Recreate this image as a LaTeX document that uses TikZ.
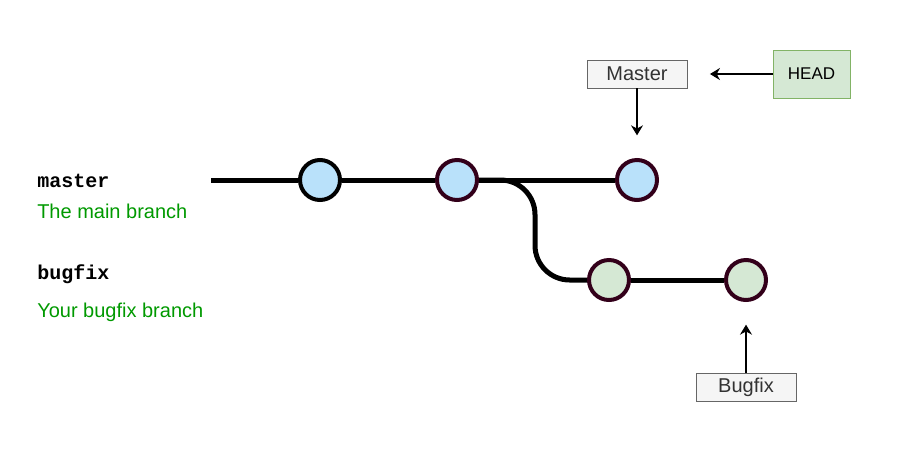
\documentclass[tikz,border=0pt]{standalone}
\usepackage{fontspec}
\setmainfont{Liberation Sans}
\setmonofont{Liberation Mono}
\usetikzlibrary{arrows.meta, positioning, backgrounds}
\definecolor{cBlue}{HTML}{B9E1FA}
\definecolor{cMaroon}{HTML}{33001A}
\definecolor{cGreen}{HTML}{D5E8D4}
\definecolor{cGreenLine}{HTML}{82B366}
\definecolor{cGray}{HTML}{F5F5F5}
\definecolor{cGrayLine}{HTML}{666666}
\definecolor{cText}{HTML}{333333}
\definecolor{cTextGreen}{HTML}{009900}
\tikzset{
	commit/.style   ={circle, minimum size=30pt, inner sep=0pt, line width=3pt, draw=cMaroon},
	branch/.style   ={line width=3.75pt},
	tag/.style      ={rectangle, draw=cGrayLine, fill=cGray, text=cText, minimum width=75pt, minimum height=21pt, inner sep=0pt, font=\fontsize{15}{18}\selectfont},
	ptr/.style      ={-{Stealth[length=7.5pt, width=9pt]}, line width=0.9pt, shorten >=17pt},
	% branch names and their notes
	bname/.style    ={anchor=west, inner sep=0pt, font=\ttfamily\bfseries\fontsize{15}{18}\selectfont},
	bnote/.style    ={anchor=west, inner sep=0pt, text=cTextGreen, font=\fontsize{15}{18}\selectfont},
}
\begin{document}
\begin{tikzpicture}[x=0.75pt, y=-0.75pt]
	\useasboundingbox (0,0) rectangle (899,451);
	% commits
	\node[commit, draw=black, fill=cBlue] (c1) at (320,180) {};
	\node[commit, fill=cBlue] (c2) at (457,180) {};
	\node[commit, fill=cBlue] (c3) at (637,180) {};
	\node[commit, fill=cGreen] (c4) at (609,280) {};
	\node[commit, fill=cGreen] (c5) at (746,280) {};
	\coordinate (start) at (211,180);
	\begin{scope}[on background layer]
		\draw[branch] (start) -- (c1) -- (c2) -- (c3);
		\draw[branch, rounded corners=26pt] (c2.center) -- ++(78,0) |- (c4.center);
		\draw[branch] (c4) -- (c5);
	\end{scope}
	% pointers
	\node[tag] (master) at (637,74) {Master};
	\node[tag, draw=cGreenLine, fill=cGreen, text=black, minimum width=57.75pt, minimum height=36pt, font=\fontsize{12.75}{15}\selectfont] (head) at (811.5,74) {HEAD};
	\node[tag] (bugfix) at (746,387) {Bugfix};
	\draw[ptr] (master) -- (c3);
	\draw[ptr] (head) -- (master);
	\draw[ptr] (bugfix) -- (c5);
	% legend
	\node[bname] (lmaster) at (37,181) {master};
	\node[bnote] (dmaster) at (37,211) {The main branch};
	\node[bname] (lbugfix) at (37,274) {bugfix};
	\node[bnote] (dbugfix) at (37,312) {Your bugfix branch};
\end{tikzpicture}
\end{document}
